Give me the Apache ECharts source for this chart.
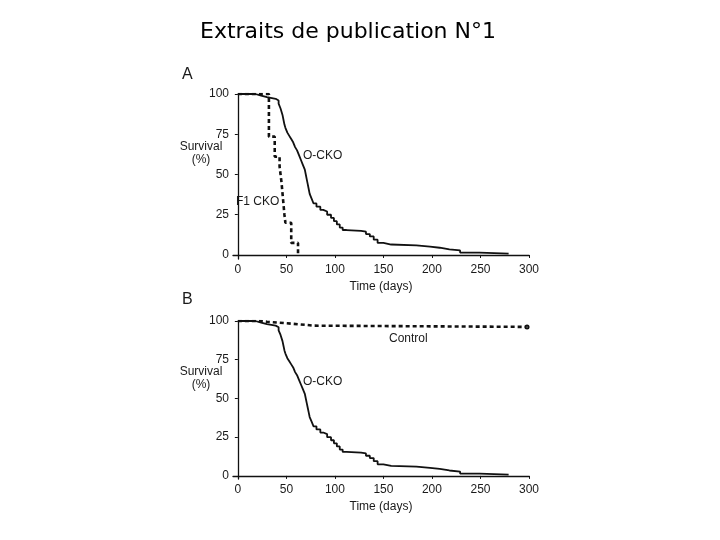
<!DOCTYPE html>
<html>
<head>
<meta charset="utf-8">
<script src="https://cdn.jsdelivr.net/npm/echarts@6/dist/echarts.min.js"></script>
<style>html,body{margin:0;padding:0;background:#fff}#c{width:720px;height:540px}</style>
</head>
<body>
<div id="c"></div>
<script>
// Tick labels
const xTicks = [0, 50, 100, 150, 200, 250, 300];
const yTicks = [0, 25, 50, 75, 100];

// Kaplan-Meier step points: [day, survival %]
const oCKO = [[0,100],[18,99],[24,98],[30,97],[39,96],[42,94],[44,91],[46,87],[47,84],[48,81],[49,79],[51,76],[53,74],[55,72],[57,70],[59,67],[61,65],[63,62],[65,59],[67,56],[69,53],[70,50],[71,47],[72,44],[73,41],[74,38],[76,35],[78,32],[81,30],[85,28],[88,27],[92,25],[96,23],[99,21],[102,19],[105,17],[108,15.5],[112,15],[127,14.5],[132,13],[136,11.5],[140,9.5],[144,7.5],[150,6.5],[158,6],[184,5.2],[198,4.5],[208,3.5],[218,2.8],[229,1.5],[249,0.8],[279,0.8]];
const f1CKO = [[0,100],[32,73.5],[38,61],[43,55],[45,45],[46.5,35],[48,25],[49,20],[55,7.5],[62,0]];
const control = [[0,100],[22,99.5],[30,99],[40,98.3],[55,97.5],[70,97],[78,96.2],[298,96.2]];

const txt = '#1a1a1a';
const font = 'Liberation Sans, Arial, sans-serif';

function xAx(gi) {
  return {
    type: 'value', gridIndex: gi, min: -5, max: 300,
    name: 'Time (days)', nameLocation: 'middle', nameGap: 22,
    nameTextStyle: {color: txt, fontSize: 12, fontFamily: font},
    axisLine: {lineStyle: {color: '#111', width: 1.3}},
    axisTick: {show: true, length: 3, customValues: xTicks, lineStyle: {color: '#111'}},
    axisLabel: {customValues: xTicks, color: txt, fontSize: 12, fontFamily: font, margin: 5},
    splitLine: {show: false}
  };
}
function yAx(gi, mn) {
  return {
    type: 'value', gridIndex: gi, min: mn, max: 100,
    axisLine: {show: true, lineStyle: {color: '#111', width: 1.3}},
    axisTick: {show: true, length: 3, customValues: yTicks, lineStyle: {color: '#111'}},
    axisLabel: {customValues: yTicks, color: txt, fontSize: 12, fontFamily: font, margin: 4},
    splitLine: {show: false}
  };
}
function stepSeries(data, xi, dashed, endMark) {
  const d = data.slice();
  return {
    type: 'line', xAxisIndex: xi, yAxisIndex: xi, step: 'end',
    data: d.map((p, i) => (endMark && i === d.length - 1) ? {value: p, symbol: 'emptyCircle', symbolSize: 3} : p),
    symbol: 'none', showSymbol: endMark ? true : false,
    lineStyle: dashed ? {color: '#111', width: 2.6, type: [4, 3]} : {color: '#111', width: 1.8},
    itemStyle: {color: '#111', borderWidth: 1},
    silent: true, animation: false
  };
}

const chart = echarts.init(document.getElementById('c'));
chart.setOption({
  backgroundColor: '#fff',
  animation: false,
  title: {
    text: 'Extraits de publication N°1', left: 343, top: 16, textAlign: 'center',
    textStyle: {fontFamily: 'DejaVu Sans', fontWeight: 'normal', fontSize: 22, color: '#000'}
  },
  grid: [
    {left: 233, right: 191, top: 94, bottom: 281},
    {left: 233, right: 191, top: 321, bottom: 61}
  ],
  xAxis: [xAx(0), xAx(1)],
  yAxis: [yAx(0, -2.5), yAx(1, -2)],
  series: [
    stepSeries(oCKO, 0, false, false),
    stepSeries(f1CKO, 0, true, false),
    stepSeries(oCKO, 1, false, false),
    stepSeries(control, 1, true, true)
  ],
  graphic: [
    {type: 'text', left: 182, top: 67, style: {text: 'A', fontSize: 16, fontFamily: font, fill: txt}},
    {type: 'text', left: 182, top: 292, style: {text: 'B', fontSize: 16, fontFamily: font, fill: txt}},
    {type: 'text', x: 201, y: 147, style: {text: 'Survival', fontSize: 12, fontFamily: font, fill: txt, align: 'center', verticalAlign: 'middle'}},
    {type: 'text', x: 201, y: 160, style: {text: '(%)', fontSize: 12, fontFamily: font, fill: txt, align: 'center', verticalAlign: 'middle'}},
    {type: 'text', x: 201, y: 372, style: {text: 'Survival', fontSize: 12, fontFamily: font, fill: txt, align: 'center', verticalAlign: 'middle'}},
    {type: 'text', x: 201, y: 385, style: {text: '(%)', fontSize: 12, fontFamily: font, fill: txt, align: 'center', verticalAlign: 'middle'}},
    {type: 'text', x: 303, y: 156, style: {text: 'O-CKO', fontSize: 12, fontFamily: font, fill: txt, verticalAlign: 'middle'}},
    {type: 'text', x: 236, y: 202, style: {text: 'F1 CKO', fontSize: 12, fontFamily: font, fill: txt, verticalAlign: 'middle'}},
    {type: 'text', x: 303, y: 382, style: {text: 'O-CKO', fontSize: 12, fontFamily: font, fill: txt, verticalAlign: 'middle'}},
    {type: 'text', x: 389, y: 339, style: {text: 'Control', fontSize: 12, fontFamily: font, fill: txt, verticalAlign: 'middle'}}
  ]
});
</script>
</body>
</html>
